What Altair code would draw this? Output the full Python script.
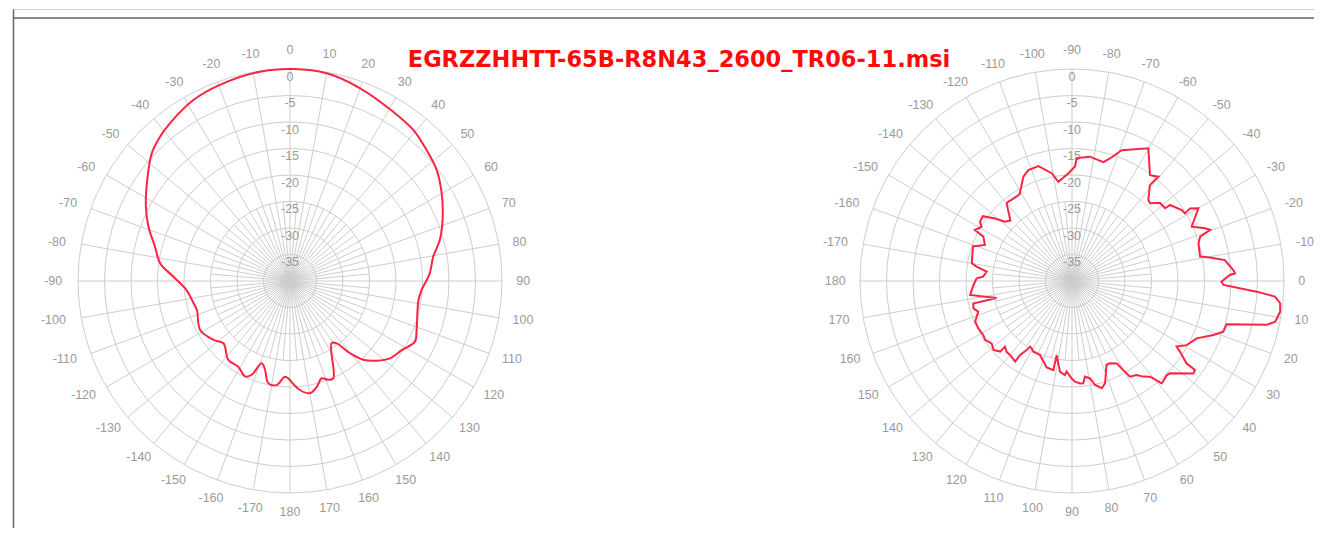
import altair as alt
import pandas as pd

TITLE = "EGRZZHHTT-65B-R8N43_2600_TR06-11.msi"

# Horizontal pattern (left): azimuth angle (deg), level (dB)
H_ANG = [-180, -177, -172.7, -168, -164.3, -161, -157.8, -154.8, -148.9, -142,
         -133.1, -127.6, -118.6, -107.3, -102.7, -95, -87.9, -82.3, -75.7, -69,
         -62.7, -54.7, -47.3, -42, -37.3, -28.1, -19.7, -8.2, 0.9, 10,
         20, 31.4, 39.2, 46.2, 52.9, 60, 68.2, 74.7, 80.4, 86.9,
         93.9, 98.4, 111.1, 115.9, 121.7, 127.7, 132.6, 137.1, 140.3, 143.2,
         146.2, 156, 158.8, 162, 165.8, 169.9, 174.8, 180]
H_DB = [-21.3, -21.9, -20.2, -20.3, -22.6, -23.6, -20.9, -20.1, -21.1, -21.1,
        -22.8, -21.8, -20.7, -21.6, -21.3, -20.4, -18.0, -15.3, -13.7, -11.4,
        -9.4, -7.0, -4.5, -3.35, -2.6, -1.3, -0.7, -0.1, 0.0, -0.2,
        -1.3, -2.6, -3.2, -4.3, -5.3, -6.95, -9.0, -10.7, -12.6, -13.6,
        -15.1, -15.5, -14.4, -13.8, -15.2, -16.15, -17.8, -19.7, -22.3, -25.3,
        -25.9, -19.9, -20.0, -20.7, -19.4, -18.5, -19.35, -21.3]

# Vertical pattern (right): elevation angle (deg), level (dB)
V_ANG = [-178.4, -177.2, -173.8, -171.4, -170.0, -160.8, -157.5, -153.4, -152.3, -149.0,
         -147.2, -144.0, -140.9, -138.5, -135.5, -130.1, -128.7, -126.7, -121.2, -115.0,
         -111.5, -106.3, -100.7, -97.8, -92.0, -88.5, -87.8, -81.8, -75.2, -72.8,
         -69.2, -60.1, -53.6, -50.4, -50.9, -46.7, -44.9, -41.7, -38.0, -37.8,
         -32.9, -30.9, -31.6, -29.9, -24.4, -21.6, -20.3, -19.1, -16.6, -10.8,
         -9.7, -7.8, -3.9, -2.7, -2.2, 0.3, 1.5, 3.3, 4.4, 6.1,
         8.4, 11.3, 12.7, 15.6, 18.5, 20.9, 24.7, 29.2, 32.1, 33.2,
         35.7, 35.9, 37.3, 43.3, 44.8, 48.8, 50.8, 53.3, 55.5, 58.8,
         59.4, 61.5, 65.2, 67.6, 72.1, 74.5, 77.5, 79.5, 82.3, 83.7,
         85.5, 88.3, 90.2, 93.4, 94.3, 97.5, 101.7, 101.8, 106.3, 113.4,
         118.7, 120.9, 122.6, 123.3, 125.1, 125.2, 130.0, 132.8, 135.6, 135.5,
         138.7, 142.2, 145.9, 148.7, 153.2, 157.3, 161.9, 164.5, 167.2, 167.3,
         172.2, 177.7, 181.6]
V_DB = [-22.0, -23.2, -23.8, -21.8, -20.8, -20.2, -22.2, -21.3, -19.3, -20.1,
        -19.35, -19.2, -21.3, -23.1, -23.7, -20.85, -20.8, -20.9, -20.9, -18.3,
        -17.5, -17.4, -19.3, -21.1, -19.7, -18.4, -16.8, -16.3, -16.8, -15.8,
        -13.6, -11.1, -15.2, -14.45, -16.7, -19.0, -19.2, -17.8, -17.7, -16.6,
        -15.35, -15.15, -13.85, -12.5, -15.2, -13.0, -12.2, -14.4, -15.1, -15.4,
        -13.6, -10.9, -9.5, -9.2, -10.2, -11.8, -11.4, -5.1, -1.6, -0.5,
        -0.3, -0.9, -2.35, -9.7, -9.9, -11.45, -14.1, -15.2, -16.7, -15.65,
        -13.4, -11.35, -11.2, -14.6, -14.8, -14.3, -16.7, -17.5, -18.5, -18.9,
        -19.75, -22.3, -22.9, -22.9, -19.7, -19.0, -19.9, -21.3, -21.8, -20.6,
        -20.6, -21.0, -21.6, -22.9, -22.2, -22.7, -25.7, -22.8, -23.0, -24.8,
        -24.8, -25.2, -25.3, -24.4, -22.9, -21.4, -21.8, -21.8, -22.3, -21.0,
        -20.3, -20.8, -20.2, -20.4, -20.2, -20.2, -21.4, -20.7, -20.9, -25.4,
        -20.6, -21.4, -22.0]

RING_DB = [0, -5, -10, -15, -20, -25, -30, -35]
RING_TEXT = ["0", "-5", "-10", "-15", "-20", "-25", "-30", "-35"]
TICK_ANG = list(range(-170, 181, 10))
TICK_TEXT = [str(a) for a in TICK_ANG]
SPOKE_ANG = list(range(0, 360, 10))
FINE_ANG = list(range(5, 360, 10))
DB_MIN = -40

# layout (pixels)
W, HT = 1306, 520
R = 212
R_LAB = 226
FINE_R = 79.5
GRID = "#cdcdcd"
LABEL = "#9a9a9a"
CURVE = "#ff2244"

xs = alt.Scale(domain=[0, W], nice=False, zero=False)
ys = alt.Scale(domain=[0, HT], nice=False, zero=False, reverse=True)


def X(f):
    return alt.X(f, type="quantitative", scale=xs, axis=None)


def Y(f):
    return alt.Y(f, type="quantitative", scale=ys, axis=None)


def spokes(cx, cy, angs, rr):
    return alt.Chart(pd.DataFrame({"phi": angs})).transform_calculate(
        px=f"{cx}", py=f"{cy}",
        px2=f"{cx} + {rr}*sin(datum.phi*PI/180)",
        py2=f"{cy} - {rr}*cos(datum.phi*PI/180)",
    ).mark_rule(color=GRID, strokeWidth=1).encode(
        x=X("px"), y=Y("py"), x2=alt.X2("px2:Q"), y2=alt.Y2("py2:Q"))


def panel(cx, cy, rot, ang, db, interp):
    layers = [spokes(cx, cy, FINE_ANG, FINE_R), spokes(cx, cy, SPOKE_ANG, R)]
    rings = pd.DataFrame({"db": RING_DB, "t": RING_TEXT})
    layers.append(alt.Chart(rings).transform_calculate(
        px=f"{cx}", py=f"{cy}",
        s=f"pow(2*{R}*(datum.db - ({DB_MIN}))/{-DB_MIN}, 2)",
    ).mark_point(shape="circle", filled=False, color=GRID, strokeWidth=1,
                 opacity=1).encode(x=X("px"), y=Y("py"),
                                   size=alt.Size("s:Q", scale=None)))
    layers.append(alt.Chart(rings).transform_calculate(
        px=f"{cx}",
        py=f"{cy} - {R}*(datum.db - ({DB_MIN}))/{-DB_MIN} + 7.5",
    ).mark_text(font="Liberation Sans", fontSize=12.5, color=LABEL,
                align="center", baseline="middle").encode(
        x=X("px"), y=Y("py"), text="t:N"))
    ticks = pd.DataFrame({"a": TICK_ANG, "t": TICK_TEXT})
    layers.append(alt.Chart(ticks).transform_calculate(
        phi=f"(datum.a + {rot})*PI/180",
        hw="length(datum.t)*3.6",
    ).transform_calculate(
        px=f"{cx} + ({R_LAB} + datum.hw*abs(sin(datum.phi)))*sin(datum.phi)",
        py=f"{cy} - ({R_LAB} + 5*abs(cos(datum.phi)))*cos(datum.phi)",
    ).mark_text(font="Liberation Sans", fontSize=12.5, color=LABEL,
                align="center", baseline="middle").encode(
        x=X("px"), y=Y("py"), text="t:N"))
    curve = pd.DataFrame({"a": ang, "db": db, "i": list(range(len(ang)))})
    layers.append(alt.Chart(curve).transform_calculate(
        r=f"{R}*(datum.db - ({DB_MIN}))/{-DB_MIN}",
        phi=f"(datum.a + {rot})*PI/180",
    ).transform_calculate(
        px=f"{cx} + datum.r*sin(datum.phi)",
        py=f"{cy} - datum.r*cos(datum.phi)",
    ).mark_line(color=CURVE, strokeWidth=2, interpolate=interp).encode(
        x=X("px"), y=Y("py"), order="i:Q"))
    return layers


one = pd.DataFrame({"k": [0]})
frame = [
    alt.Chart(one).mark_rule(color="#d0d0d0", strokeWidth=1).encode(
        x=alt.value(5), x2=alt.value(W), y=alt.value(1.5)),
    alt.Chart(one).mark_rule(color="#666666", strokeWidth=1.5).encode(
        x=alt.value(5), x2=alt.value(W), y=alt.value(10)),
    alt.Chart(one).mark_rule(color="#666666", strokeWidth=1.5).encode(
        x=alt.value(5.5), y=alt.value(1.5), y2=alt.value(HT)),
]

title = alt.Chart(pd.DataFrame({"t": [TITLE]})).transform_calculate(
    px="671", py="52").mark_text(
    font="DejaVu Sans", fontSize=22.5, fontWeight="bold", color="#ff0a0a",
    align="center", baseline="middle").encode(x=X("px"), y=Y("py"), text="t:N")

layers = (frame
          + panel(282, 273, 0, H_ANG, H_DB, "catmull-rom")
          + panel(1064, 273, 90, V_ANG, V_DB, "linear")
          + [title])

chart = alt.layer(*layers).properties(
    width=W, height=HT, autosize=alt.AutoSizeParams(type="none"), padding=0,
    background="white",
).configure_view(stroke=None)

chart.save("out.html", embed_options={"renderer": "svg", "actions": False})
